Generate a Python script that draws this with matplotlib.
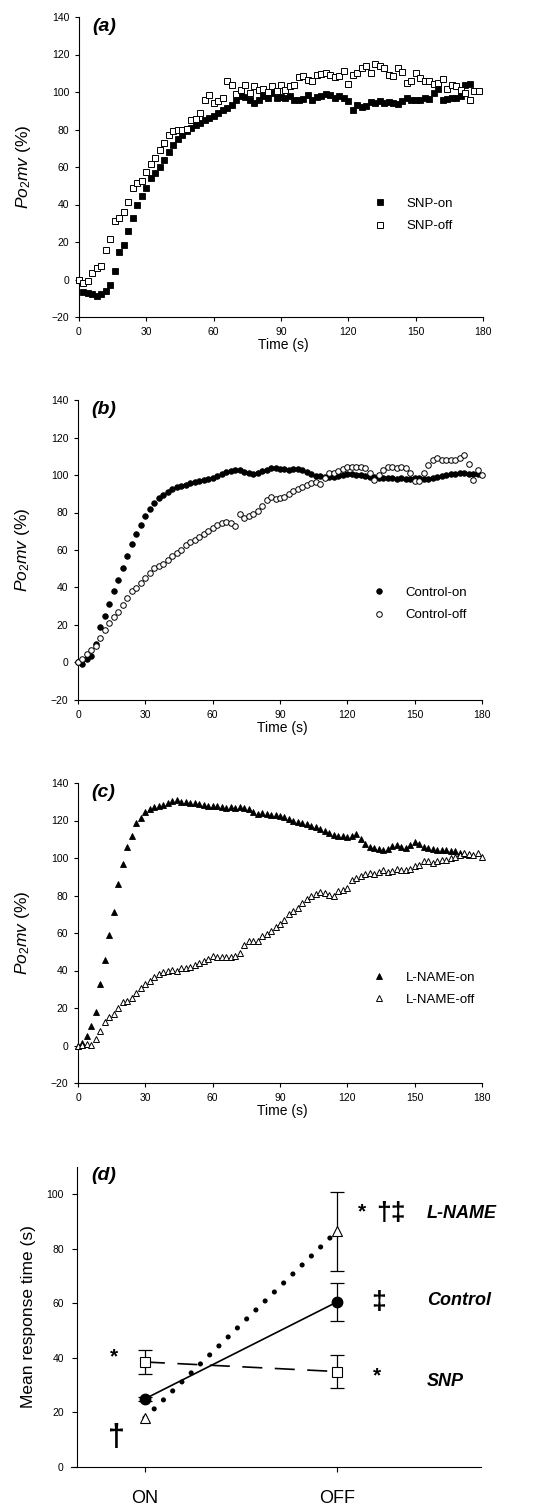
import numpy as np
import matplotlib
matplotlib.use("Agg")
import matplotlib.pyplot as plt

plt.rcParams['font.family'] = ['Liberation Sans', 'DejaVu Sans']
plt.rcParams['mathtext.fontset'] = 'custom'
plt.rcParams['mathtext.it'] = 'Liberation Sans:italic'
plt.rcParams['mathtext.rm'] = 'Liberation Sans'

# --- datos (muestras cada 2 s) ---
snp_on = [0, -6.5, -7.2, -7.9, -8.9, -7.9, -6, -3, 4.6, 14.8,
          18.2, 25.9, 33, 40, 44.8, 48.9, 54, 57, 60, 64,
          68, 72, 75, 77, 79, 81, 82.5, 83.5, 85, 86,
          87, 89, 90.5, 91.5, 93, 95.5, 98, 97.5, 96, 94,
          96, 98, 97, 99.5, 97, 97.5, 97, 98, 96, 95.6,
          96.5, 98.5, 96, 97.5, 98, 99, 98.5, 97, 98, 97,
          95, 90.5, 93, 92, 92.5, 94.5, 94, 95, 94, 94.5,
          94, 93.5, 95, 96.8, 96, 96, 96, 96.8, 96.5, 99.5,
          101.5, 95.9, 96.3, 96.8, 97, 97.7, 104, 104.5]
snp_off = [0, -1.8, -0.9, 3.6, 5.9, 7.3, 15.7, 21.4, 31.3, 32.7,
           35.9, 41.3, 49, 51.4, 52.7, 57.4, 61.6, 65, 69, 72.8,
           77, 79, 80, 80, 80.5, 85, 85.6, 89, 96, 98.6,
           94, 95, 97, 106, 104, 99, 101, 103.5, 99.5, 103,
           101, 101.6, 100, 103, 100.7, 104, 101, 103, 104, 108,
           108.7, 106.6, 105.7, 109, 109.5, 110, 109, 108, 108.7, 111,
           104.4, 109, 110, 112.8, 113.7, 110, 115, 114, 113, 109,
           108.7, 113, 110.5, 105, 105.7, 110, 107.5, 106, 105.7, 104.4,
           104.8, 107, 101.6, 104, 103, 101, 99.5, 96, 100.4, 100.5]

control_on = [0, -1, 2, 3.5, 10, 19, 25, 31, 38, 44,
              50.5, 57, 63, 68.5, 73.5, 78, 82, 85, 87.5, 89.5,
              91, 92.5, 93.5, 94, 94.5, 95.5, 96.5, 97, 97.5, 98,
              98.5, 99.5, 100.5, 101.5, 102, 102.5, 102.5, 101.5, 101, 100.5,
              101, 102, 102.5, 103.5, 103.5, 103, 103, 102.5, 103, 103,
              102.5, 101.5, 100.5, 99.5, 99.5, 99, 99, 99, 99.5, 100,
              100.5, 100.5, 100, 100, 99.5, 99, 99, 98.5, 98.5, 98.5,
              98.5, 98, 98.5, 98, 98, 98.5, 98.5, 98, 98, 98.5,
              99, 99.5, 100, 100.5, 100.5, 101, 101, 100.5, 100.5, 100.5]
control_off = [0, 2, 4.5, 6.5, 9, 13, 17.5, 21, 24, 27,
               30.5, 34.5, 38, 39.5, 42.5, 45, 47.5, 50.5, 51.5, 52.5,
               54.5, 57, 58.5, 60, 62.5, 64, 65.5, 67, 68.5, 70,
               72, 73.5, 74.5, 75, 74.5, 73, 79, 77, 78, 79,
               81, 83.5, 86.5, 88.5, 87, 87.5, 88.5, 90, 91.5, 92.5,
               93.5, 94.5, 95.5, 96, 95, 98.5, 101, 101, 102, 103,
               104.5, 104.5, 104.5, 104.5, 103.5, 101, 97.5, 100, 102.5, 104,
               104, 103.5, 104.5, 103.5, 101, 97, 97, 101, 105.5, 108,
               109, 108, 108, 108, 108, 109, 110.5, 106, 97.5, 102.5,
               100]

lname_on = [0, 1.5, 5, 10.5, 18, 33, 45.5, 59, 71, 86,
            97, 106, 112, 118.5, 121.5, 124.5, 126, 127, 127.5, 128.5,
            129.5, 130.5, 131, 130, 130, 129.5, 129.5, 129, 128.5, 128,
            128, 128, 127, 126.5, 127, 126.5, 127, 126.5, 126, 124.5,
            123.5, 124, 123.5, 123, 123, 122.5, 122, 121, 120, 119,
            118.5, 118, 117, 116.5, 115.5, 114.5, 113.5, 112.5, 112, 111.5,
            111, 112, 113, 110, 107.5, 106, 105.5, 105, 104.5, 105,
            106.5, 107, 106, 105.5, 107, 108.5, 107.5, 106, 105.5, 105,
            104.5, 104.5, 104.5, 104, 103.5, 102.5, 102, 101.5]
lname_off = [0, 0.5, 1, 0.5, 3.5, 8, 12.5, 15, 17, 20,
             23, 24, 25.5, 28, 30.5, 33, 34.5, 36.5, 38, 39,
             40, 40.5, 40, 41.5, 41.5, 42, 43, 44, 45, 46,
             48, 47, 47, 47, 47, 47.5, 49.5, 53.5, 55.5, 55.5,
             56, 58.5, 59.5, 61, 63, 65, 67, 70, 72, 73.5,
             76, 78, 79.5, 81, 82, 81.5, 80.5, 80, 82.5, 83,
             84, 88.5, 89.5, 90.5, 91.5, 92, 91.5, 92.5, 93.5, 92.5,
             93, 94, 93.5, 93.5, 94, 96, 96.5, 98.5, 98.5, 97.5,
             98.5, 99, 99, 100, 100.5, 101.5, 102.5, 102, 101.5, 102.5,
             100.5]

# panel (d): tiempo medio de respuesta
fases = ['ON', 'OFF']
lname_mrt = [18, 86.5]
lname_sem = [0, 14.5]
control_mrt = [25, 60.5]
control_sem = [0.8, 7]
snp_mrt = [38.5, 35]
snp_sem = [4.3, 6]


def tiempo(serie):
    return 2 * np.arange(len(serie))


W, H = 536, 1509
fig = plt.figure(figsize=(W / 100, H / 100), dpi=100)


def panel_tiempo(left, top, letra, on, off, marker, ms, lab_on, lab_off, leg_y):
    ax = fig.add_axes([left / W, 1 - (top + 300) / H, 404 / W, 300 / H])
    ax.plot(tiempo(on), on, ls='none', marker=marker, ms=ms, mfc='black',
            mec='black', mew=0.6, label=lab_on, clip_on=False, zorder=3)
    ax.plot(tiempo(off), off, ls='none', marker=marker, ms=ms, mfc='white',
            mec='black', mew=0.7, label=lab_off, clip_on=False, zorder=4)
    ax.set_xlim(0, 180)
    ax.set_ylim(-20, 140)
    ax.set_xticks(range(0, 181, 30))
    ax.set_yticks(range(-20, 141, 20))
    for s in ['top', 'right']:
        ax.spines[s].set_visible(False)
    for s in ['left', 'bottom']:
        ax.spines[s].set_linewidth(0.8)
    ax.tick_params(direction='out', length=3, width=0.8, labelsize=7.5, pad=4)
    ax.set_xlabel('Time (s)', fontsize=10)
    ax.xaxis.set_label_coords(0.505, -0.07)
    ax.set_ylabel(r'$\mathit{Po}_{2}\mathit{mv}$ (%)', fontsize=12.5)
    ax.yaxis.set_label_coords(-0.115, 0.5)
    ax.text(0.032, 0.968, letra, transform=ax.transAxes, fontsize=14,
            fontweight='bold', fontstyle='italic', va='center', ha='left')
    ax.legend(loc='center left', bbox_to_anchor=(0.70, leg_y), frameon=False,
              numpoints=1, handlelength=1, handletextpad=1.5, labelspacing=0.75,
              fontsize=9.5)
    return ax


panel_tiempo(79, 17, '(a)', snp_on, snp_off, 's', 4.6, 'SNP-on', 'SNP-off', 0.34)
panel_tiempo(78, 400, '(b)', control_on, control_off, 'o', 4.0,
             'Control-on', 'Control-off', 0.32)
panel_tiempo(78, 783, '(c)', lname_on, lname_off, '^', 5.0,
             'L-NAME-on', 'L-NAME-off', 0.315)

# --- panel (d) ---
axd = fig.add_axes([71 / W, 1 - 1467 / H, 410 / W, 300 / H])
x = np.array([1, 2])
axd.plot(x, lname_mrt, color='black', lw=3.7, ls=(0, (0.01, 2.5)),
         dash_capstyle='round', zorder=2)
axd.plot(x, control_mrt, color='black', lw=1.2, zorder=2)
axd.plot(x, snp_mrt, color='black', lw=1.2, ls=(0, (12, 7.5)), zorder=2)
for m, e in [(lname_mrt, lname_sem), (control_mrt, control_sem), (snp_mrt, snp_sem)]:
    m, e = np.array(m), np.array(e)
    k = e > 0
    axd.errorbar(x[k], m[k], yerr=e[k], fmt='none', ecolor='black',
                 elinewidth=0.9, capsize=4.7, capthick=0.9, zorder=3)
axd.plot(x, lname_mrt, ls='none', marker='^', ms=7.5, mfc='white', mec='black',
         mew=0.8, zorder=5)
axd.plot(x, control_mrt, ls='none', marker='o', ms=7.5, mfc='black', mec='black',
         zorder=5)
axd.plot(x, snp_mrt, ls='none', marker='s', ms=7, mfc='white', mec='black',
         mew=0.8, zorder=5)

axd.set_xlim(0.615, 2.75)
axd.set_ylim(0, 110)
axd.spines['left'].set_position(('data', 0.646))
for s in ['top', 'right']:
    axd.spines[s].set_visible(False)
for s in ['left', 'bottom']:
    axd.spines[s].set_linewidth(0.8)
axd.set_yticks(range(0, 101, 20))
axd.set_xticks(x)
axd.set_xticklabels(fases, fontsize=13)
axd.tick_params(axis='y', direction='out', length=3.5, width=0.8, labelsize=7.5, pad=6)
axd.tick_params(axis='x', direction='out', length=3.5, width=0.8, pad=13)
axd.set_ylabel('Mean response time (s)', fontsize=12.5)
axd.yaxis.set_label_coords(-0.085, 0.5)
axd.text(0.05, 0.973, '(d)', transform=axd.transAxes, fontsize=14,
         fontweight='bold', fontstyle='italic', va='center', ha='left')

kw = dict(fontweight='bold', va='center', clip_on=False)
axd.text(0.838, 40.5, '*', ha='center', fontsize=15, **kw)
axd.text(0.854, 10.5, '\u2020', ha='center', fontsize=22, **kw)
axd.text(2.13, 93.5, '*', ha='center', fontsize=15, **kw)
axd.text(2.28, 93, '\u2020\u2021', ha='center', fontsize=19, **kw)
axd.text(2.469, 93, 'L-NAME', ha='left', fontsize=13, fontstyle='italic', **kw)
axd.text(2.219, 60.5, '\u2021', ha='center', fontsize=19, **kw)
axd.text(2.469, 61, 'Control', ha='left', fontsize=13, fontstyle='italic', **kw)
axd.text(2.208, 33.5, '*', ha='center', fontsize=15, **kw)
axd.text(2.469, 31.5, 'SNP', ha='left', fontsize=13, fontstyle='italic', **kw)

fig.savefig('out.png', dpi=100, facecolor='white')
